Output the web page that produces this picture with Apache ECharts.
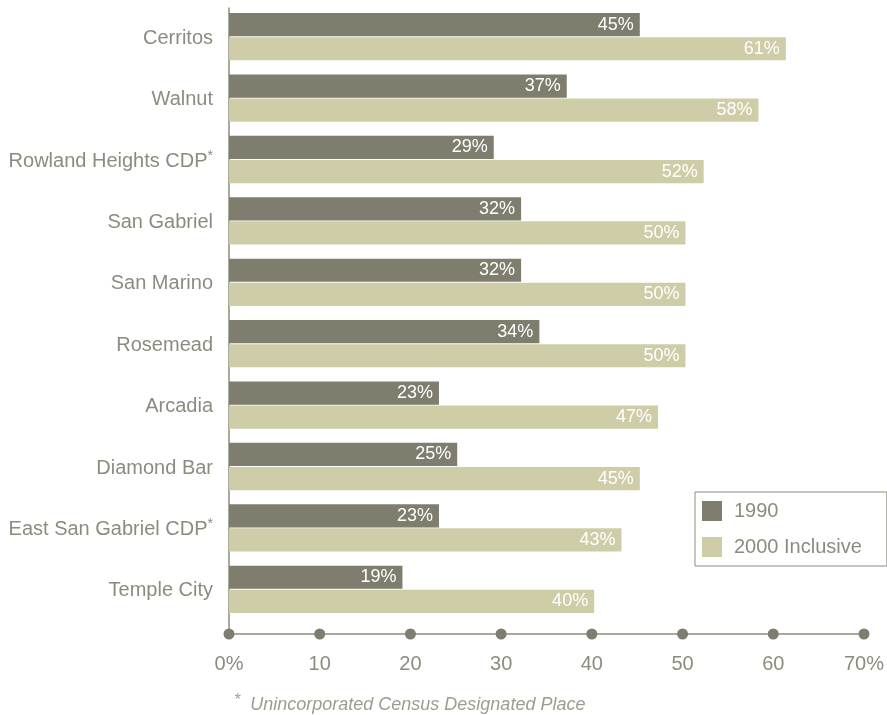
<!DOCTYPE html>
<html>
<head>
<meta charset="utf-8">
<script src="https://cdn.jsdelivr.net/npm/echarts@6/dist/echarts.min.js"></script>
<style>
  html, body { margin: 0; padding: 0; background: #fff; }
  #chart { width: 887px; height: 715px; }
</style>
</head>
<body>
<div id="chart"></div>
<script>
// data
const cities = ['Cerritos', 'Walnut', 'Rowland Heights CDP*', 'San Gabriel', 'San Marino',
  'Rosemead', 'Arcadia', 'Diamond Bar', 'East San Gabriel CDP*', 'Temple City'];
const share1990 = [45, 37, 29, 32, 32, 34, 23, 25, 23, 19];
const share2000 = [61, 58, 52, 50, 50, 50, 47, 45, 43, 40];
const xTicks = [0, 10, 20, 30, 40, 50, 60, 70];
const xTickLabels = ['0%', '10', '20', '30', '40', '50', '60', '70%'];

const dark = '#7f7d6e';
const light = '#cfcca8';
const grey = '#8c8c7e';
const font = 'Liberation Sans';

const chart = echarts.init(document.getElementById('chart'));

const barLabel = {
  show: true,
  position: 'insideRight',
  distance: 6,
  color: '#fff',
  fontFamily: font,
  fontSize: 18,
  formatter: '{c}%'
};

chart.setOption({
  animation: false,
  textStyle: { fontFamily: font },
  grid: [
    { left: 229, right: 19, top: 6, height: 614 },
    { left: 229, right: 19, top: 8, height: 626 }
  ],
  legend: {
    orient: 'vertical',
    left: 695,
    top: 492,
    padding: [9, 25, 9, 7],
    itemWidth: 20,
    itemHeight: 20,
    itemGap: 16,
    icon: 'rect',
    borderColor: grey,
    borderWidth: 1,
    textStyle: { color: grey, fontSize: 20, fontFamily: font, padding: [0, 0, 0, 7] },
    data: ['1990', '2000 Inclusive']
  },
  title: {
    text: '{s|*}  Unincorporated Census Designated Place',
    left: 229,
    top: 688,
    textStyle: {
      color: '#9c9c90',
      fontSize: 18,
      fontStyle: 'italic',
      fontWeight: 'normal',
      fontFamily: font,
      rich: { s: { fontSize: 16, color: '#9c9c90', padding: [0, 0, 8, 0], fontFamily: font } }
    }
  },
  xAxis: [
    { gridIndex: 0, type: 'value', min: 0, max: 70, interval: 10, show: false },
    {
      gridIndex: 1, type: 'value', min: 0, max: 70, interval: 10,
      axisLine: { show: true, lineStyle: { color: grey, width: 1.5 } },
      axisTick: { show: false },
      splitLine: { show: false },
      axisLabel: {
        margin: 20, color: grey, fontSize: 20, fontFamily: font,
        formatter: v => xTickLabels[xTicks.indexOf(v)]
      }
    }
  ],
  yAxis: [
    {
      gridIndex: 0, type: 'category', data: cities, inverse: true,
      axisLine: { show: false }, axisTick: { show: false },
      axisLabel: {
        margin: 16, color: grey, fontSize: 20, fontFamily: font, padding: [3, 0, 0, 0],
        formatter: v => v.endsWith('*') ? v.slice(0, -1) + '{s|*}' : v,
        rich: {
          s: { fontSize: 14, color: grey, padding: [0, 0, 10, 0], fontFamily: font }
        }
      }
    },
    {
      gridIndex: 1, type: 'value', min: 0, max: 1,
      axisLine: { show: true, lineStyle: { color: grey, width: 1.5 } },
      axisTick: { show: false }, axisLabel: { show: false }, splitLine: { show: false }
    }
  ],
  series: [
    {
      name: '1990', type: 'bar', xAxisIndex: 0, yAxisIndex: 0,
      data: share1990, itemStyle: { color: dark },
      barGap: '4%', barCategoryGap: '23%', label: barLabel
    },
    {
      name: '2000 Inclusive', type: 'bar', xAxisIndex: 0, yAxisIndex: 0,
      data: share2000, itemStyle: { color: light },
      barGap: '4%', barCategoryGap: '23%', label: barLabel
    },
    {
      type: 'scatter', xAxisIndex: 1, yAxisIndex: 1, silent: true,
      symbolSize: 11, itemStyle: { color: dark, opacity: 1 },
      data: xTicks.map(t => [t, 0])
    }
  ]
});
</script>
</body>
</html>
